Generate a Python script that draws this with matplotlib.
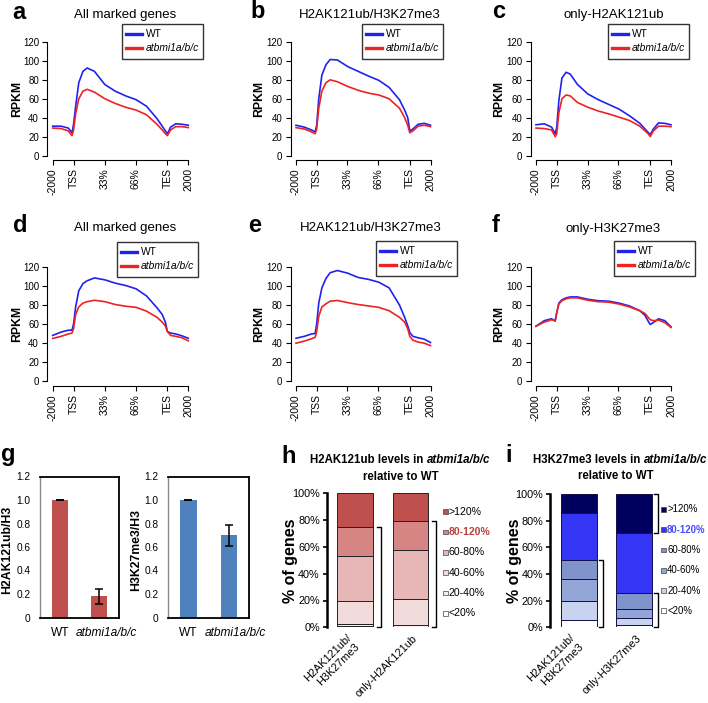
import matplotlib
matplotlib.use("Agg")
import matplotlib.pyplot as plt
import numpy as np
from matplotlib.patches import Rectangle
from matplotlib.lines import Line2D
from matplotlib.transforms import Affine2D, ScaledTranslation
from matplotlib.offsetbox import TextArea, HPacker, AnnotationBbox

plt.rcParams['font.family'] = ['Liberation Sans', 'DejaVu Sans']

# ---- profile data (a-f), x in bins: -2000..TSS = 0..20, gene body 20..110, TES..2000 = 110..130
PROFILE_X = [0, 8, 15, 18.5, 20, 22, 25, 29, 33, 40, 50, 60, 70, 80, 90, 100, 105, 108, 110, 113, 118, 124, 130]
X_TICKS = [0, 20, 49.7, 79.4, 110, 130]
X_TICK_LABELS = ['-2000', 'TSS', '33%', '66%', 'TES', '2000']

a_wt = [31, 31, 29, 24, 33, 52, 77, 89, 92.5, 89, 75, 68, 63, 59, 52, 39, 31, 26, 23, 30, 33.5, 33, 32]
a_mut = [29, 28.5, 26, 21, 27, 44, 60, 68, 70, 67, 60, 55, 51, 48, 43, 33, 27, 23, 21, 27, 30.5, 30.5, 29.5]
b_wt = [32, 30, 27, 25, 32, 60, 85, 96, 101.5, 101, 94, 89, 84, 79.5, 72, 59, 48, 40, 26, 28, 33, 34, 32]
b_mut = [29.5, 28, 25, 23, 28, 50, 68, 77, 80, 78, 73, 69, 66, 64, 60, 50, 40, 32, 24, 26, 31, 32, 30.5]
c_wt = [32.5, 33.5, 30, 23, 30, 58, 82, 88, 86, 75, 65, 59, 54, 49, 42, 34, 28, 24.5, 22, 28, 34.5, 34, 32.5]
c_mut = [29, 28.5, 27, 20, 23, 45, 60, 64, 63, 56, 51, 47, 44, 40.5, 37, 31, 26, 23, 20, 26, 31, 31, 30.5]
d_wt = [48, 51.5, 53.5, 53.5, 60, 78, 95, 102.5, 105.5, 108.5, 106.5, 103, 100.5, 97, 89.5, 77, 70, 62, 52, 50.5, 49.5, 47.5, 45]
d_mut = [44.8, 47, 49.5, 50.5, 55, 70, 78, 82, 83.5, 85, 83.5, 80.5, 78.7, 77.5, 73.5, 67, 62, 58, 52, 48, 47, 45.5, 42.3]
e_wt = [45, 47, 49.5, 50, 60, 82, 98, 108, 114, 116.3, 113.5, 109, 107, 104, 98, 80, 67, 58, 51, 47, 45.5, 44, 40.5]
e_mut = [39.8, 42, 44.5, 46, 52, 68, 78, 81.3, 84, 84.8, 82.5, 80.5, 79, 77.5, 74, 67, 62, 55, 47, 43, 41, 39.8, 37.3]
f_wt = [57.7, 63.5, 65.5, 63, 72, 82, 85.5, 87.5, 88.5, 88.5, 86, 84.5, 84, 82, 79, 74, 69, 63, 59.5, 61.5, 65.5, 63.5, 57]
f_mut = [57.7, 62, 64.5, 64, 72, 81, 84.5, 86.5, 87.5, 87.5, 85, 83.5, 83, 81, 78, 74, 71, 67, 64.5, 63.5, 64, 61.5, 56.3]

# ---- panel g
g_groups = ['WT', 'atbmi1a/b/c']
h2a_mean = [1.0, 0.18]
h2a_err = [0.003, 0.065]
h3k_mean = [1.0, 0.70]
h3k_err = [0.003, 0.09]

# ---- panels h, i (bottom to top)
level_cats = ['<20%', '20-40%', '40-60%', '60-80%', '80-120%', '>120%']
h_names = ['H2AK121ub/\nH3K27me3', 'only-H2AK121ub']
h_bar1 = [0.7, 1.5, 17.7, 33.6, 21.6, 24.9]
h_bar2 = [0.5, 1.2, 19.2, 36.8, 21.9, 20.4]
i_names = ['H2AK121ub/\nH3K27me3', 'only-H3K27me3']
i_bar1 = [5.5, 14.5, 16, 14.5, 35, 14.5]
i_bar2 = [1.75, 5, 6.75, 12.5, 44.5, 29.5]

h_colors = ['#ffffff', '#f8ecec', '#f2dcdb', '#e6b7b6', '#d48584', '#c0504d']
i_colors = ['#ffffff', '#c9d3ef', '#93a5d6', '#8094cc', '#3535f5', '#00005e']

BLUE = '#2222ee'
RED = '#ee2222'

W, H = 708, 703
fig = plt.figure(figsize=(W / 100, H / 100), dpi=100)
px = Affine2D().scale(1 / W, -1 / H).translate(0, 1) + fig.transFigure


def rect_px(l, t, r, b):
    return [l / W, 1 - b / H, (r - l) / W, (b - t) / H]


def letter(x, y, s):
    fig.text(x, y, s, transform=px, fontsize=17, fontweight='bold', ha='left', va='baseline')


def profile_panel(wt, mut, x0, x1, y0, y120, title, tpos, ylx, leg):
    sx = (x1 - x0) / 130
    sy = (y0 - y120) / 120
    ax = fig.add_axes(rect_px(x0 - 5.2 * sx, y120 - 4.8 * sy, x1 + 5.2 * sx, y0 + 4.8 * sy))
    ax.plot(PROFILE_X, wt, color=BLUE, lw=1.2)
    ax.plot(PROFILE_X, mut, color=RED, lw=1.2)
    ax.set_xlim(-5.2, 135.2)
    ax.set_ylim(-4.8, 124.8)
    for s in ['top', 'right']:
        ax.spines[s].set_visible(False)
    ax.spines['left'].set_bounds(0, 120)
    ax.spines['bottom'].set_bounds(0, 130)
    for s in ['left', 'bottom']:
        ax.spines[s].set_linewidth(0.8)
    ax.set_yticks(range(0, 121, 20))
    ax.set_xticks(X_TICKS)
    ax.set_xticklabels(X_TICK_LABELS, rotation=90)
    ax.tick_params(length=3.5, width=0.8, pad=2.5)
    ax.tick_params(axis='y', labelsize=7)
    ax.tick_params(axis='x', labelsize=7.5)
    fig.text(tpos[0], tpos[1], title, transform=px, fontsize=9.5, ha='center', va='center')
    fig.text(ylx, (y0 + y120) / 2, 'RPKM', transform=px, fontsize=8.8, fontweight='bold',
             rotation=90, ha='center', va='center')
    l, t = leg
    fig.add_artist(Rectangle((l, t), 81, 35, transform=px, fc='white', ec='#333333', lw=1.0))
    for dy, col, lab, st in [(10.3, BLUE, 'WT', 'normal'), (24.3, RED, 'atbmi1a/b/c', 'italic')]:
        fig.add_artist(Line2D([l + 4, l + 19.7], [t + dy, t + dy], transform=px, color=col, lw=2.4))
        fig.text(l + 23.7, t + dy, lab, transform=px, fontsize=7.4, fontstyle=st, ha='left', va='center')
    return ax


cols = [(52.7, 188.3), (296, 430.5), (536, 671)]
rows = [(155.5, 42), (381, 267)]
profile_panel(a_wt, a_mut, *cols[0], *rows[0], 'All marked genes', (125, 15), 17, (122, 24))
profile_panel(b_wt, b_mut, *cols[1], *rows[0], 'H2AK121ub/H3K27me3', (370, 15), 259, (362, 24))
profile_panel(c_wt, c_mut, *cols[2], *rows[0], 'only-H2AK121ub', (614, 15), 499, (608, 24))
profile_panel(d_wt, d_mut, *cols[0], *rows[1], 'All marked genes', (125, 228), 17, (117, 242))
profile_panel(e_wt, e_mut, *cols[1], *rows[1], 'H2AK121ub/H3K27me3', (371, 228), 259, (376, 241))
profile_panel(f_wt, f_mut, *cols[2], *rows[1], 'only-H3K27me3', (613, 229), 499, (614, 241))

for x, y, s in [(12.7, 19.3, 'a'), (250.7, 18.3, 'b'), (491.7, 18.3, 'c'),
                (12.7, 232.3, 'd'), (248.3, 232.3, 'e'), (491.7, 232.3, 'f'),
                (0.5, 461, 'g'), (281.7, 463, 'h'), (505, 462, 'i')]:
    letter(x, y, s)


# ---- panel g
def bar_panel(l, r, means, errs, color, ylabel, ylx):
    ax = fig.add_axes(rect_px(l, 476.5, r, 617.5))
    ax.bar(range(2), means, width=0.41, color=color, yerr=errs, capsize=3,
           error_kw=dict(elinewidth=1.1, capthick=1.1, ecolor='black'))
    ax.set_xlim(-0.5, 1.5)
    ax.set_ylim(0, 1.2)
    yt = np.arange(0, 1.21, 0.2)
    ax.set_yticks(yt)
    ax.set_yticklabels(['0'] + ['%.1f' % v for v in yt[1:]])
    ax.set_xticks(range(2))
    ax.set_xticklabels(g_groups)
    ax.tick_params(axis='y', length=0, labelsize=7.3, pad=7)
    ax.tick_params(axis='x', length=0, labelsize=8.6, pad=7)
    labs = ax.get_xticklabels()
    labs[1].set_fontstyle('italic')
    labs[1].set_transform(labs[1].get_transform() + ScaledTranslation(7 / 100, 0, fig.dpi_scale_trans))
    for s in ['top', 'right', 'bottom']:
        ax.spines[s].set_color('black')
        ax.spines[s].set_linewidth(1.3)
    ax.spines['left'].set_color('#888888')
    ax.spines['left'].set_linewidth(1.0)
    fig.text(ylx, 550, ylabel, transform=px, fontsize=8.8, fontweight='bold',
             rotation=90, ha='center', va='center')


bar_panel(40, 119, h2a_mean, h2a_err, '#c0504d', 'H2AK121ub/H3', 7.5)
bar_panel(168.3, 249, h3k_mean, h3k_err, '#4f81bd', 'H3K27me3/H3', 136)


# ---- panels h, i
def mixed_title(xc, y, parts):
    boxes = [TextArea(s, textprops=dict(fontsize=8.3, fontweight='bold', fontstyle=st)) for s, st in parts]
    pack = HPacker(children=boxes, align='baseline', pad=0, sep=2.3)
    ab = AnnotationBbox(pack, (xc / W, 1 - y / H), xycoords='figure fraction',
                        frameon=False, box_alignment=(0.5, 0.5))
    fig.add_artist(ab)


def stack_panel(l, r, t, b, xlim, width, bars, names, colors, edge, brk_dx, brackets,
                leg_x, leg_y, leg_size, hl_color, lab_dx):
    ax = fig.add_axes(rect_px(l, t, r, b))
    data = np.array(bars)
    bottoms = np.zeros(len(bars))
    for k in range(len(level_cats)):
        ax.bar(range(len(bars)), data[:, k], width, bottom=bottoms, color=colors[k],
               edgecolor=edge, lw=0.7)
        bottoms += data[:, k]
    cum = np.cumsum(data, axis=1)
    for bi, (lo, hi) in brackets:
        y0 = 0 if lo == 0 else cum[bi][lo - 1]
        y1 = cum[bi][hi]
        x = bi + brk_dx
        ax.plot([x - 0.07, x, x, x - 0.07], [y0, y0, y1, y1], color='black', lw=1.0, clip_on=False)
    ax.set_xlim(*xlim)
    ax.set_ylim(0, 100)
    for s in ['top', 'right', 'bottom']:
        ax.spines[s].set_visible(False)
    ax.spines['left'].set_linewidth(1.8)
    ax.set_yticks(range(0, 101, 20))
    ax.set_yticklabels(['%d%%' % v for v in range(0, 101, 20)])
    ax.tick_params(axis='y', length=3, width=1.2, labelsize=7.8, pad=2)
    ax.set_xticks(range(len(bars)))
    ax.set_xticklabels(names, rotation=45, ha='right', va='top', rotation_mode='anchor', fontsize=7.9)
    ax.tick_params(axis='x', length=0, pad=4)
    for lab, dx in zip(ax.get_xticklabels(), lab_dx):
        lab.set_transform(lab.get_transform() + ScaledTranslation(dx / 100, 0, fig.dpi_scale_trans))
    # legend, top to bottom
    for j, k in enumerate(range(len(level_cats) - 1, -1, -1)):
        y = leg_y + j * 20.3
        fig.add_artist(Rectangle((leg_x - 0.5, y - 2.4), 4.8, 4.8, transform=px, fc=colors[k],
                                 ec='#444444', lw=0.5))
        hl = level_cats[k] == '80-120%'
        fig.text(leg_x + 5.5, y, level_cats[k], transform=px, fontsize=leg_size, ha='left', va='center',
                 fontweight='bold' if hl else 'normal', color=hl_color if hl else 'black')
    fig.text(l - 36, (t + b) / 2, '% of genes', transform=px, fontsize=11.5, fontweight='bold',
             rotation=90, ha='center', va='center')


stack_panel(326.7, 443, 493.3, 627.3, (-0.512, 1.591), 0.638, [h_bar1, h_bar2], h_names, h_colors,
            '#222222', 0.465, [(0, (0, 4)), (1, (0, 4))], 443.3, 511.7, 7.6, '#b8433f', (-9, 2))
mixed_title(400, 460, [('H2AK121ub levels in', 'normal'), ('atbmi1a/b/c', 'italic')])
fig.text(400.5, 476.7, 'relative to WT', transform=px, fontsize=8.3, fontweight='bold', ha='center', va='center')

stack_panel(550, 670, 494, 627.3, (-0.522, 1.66), 0.655, [i_bar1, i_bar2], i_names, i_colors,
            '#10104a', 0.44, [(0, (0, 3)), (1, (0, 3)), (1, (5, 5))], 661.7, 509.3, 6.9, '#4a4aff', (-9, 2))
mixed_title(620, 460, [('H3K27me3 levels in', 'normal'), ('atbmi1a/b/c', 'italic')])
fig.text(616, 475.7, 'relative to WT', transform=px, fontsize=8.3, fontweight='bold', ha='center', va='center')

fig.savefig('out.png', dpi=100)
